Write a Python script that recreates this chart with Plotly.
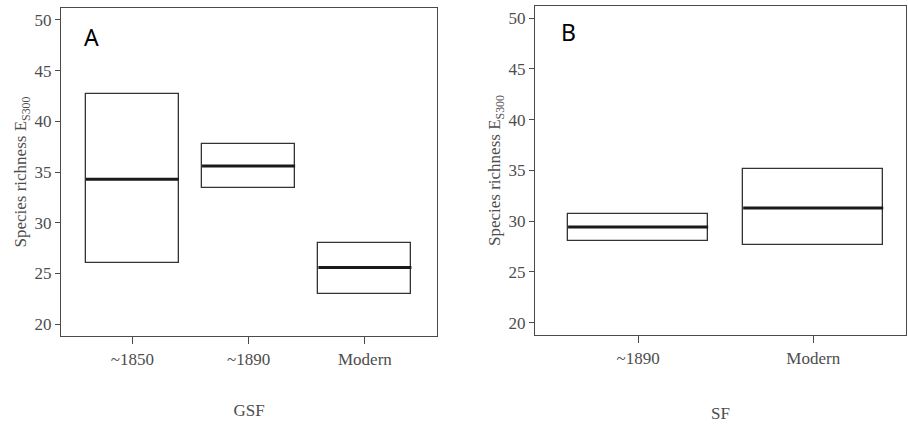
import plotly.graph_objects as go

# Panel A: GSF periods
gsf_labels = ["~1850", "~1890", "Modern"]
gsf_q1 = [25.98, 33.42, 22.98]
gsf_median = [34.28, 35.59, 25.59]
gsf_q3 = [42.67, 37.76, 27.96]

# Panel B: SF periods
sf_labels = ["~1890", "Modern"]
sf_q1 = [28.04, 27.61]
sf_median = [29.42, 31.29]
sf_q3 = [30.70, 35.14]

y_ticks = [20, 25, 30, 35, 40, 45, 50]

BOX_W = 0.8
FRAME = "#4a4a4a"
TEXT = "#4d4d4d"
SERIF = "Liberation Serif"

fig = go.Figure()


def add_panel(labels, q1, med, q3, xa, ya):
    xs = list(range(len(labels)))
    fig.add_trace(go.Bar(
        x=xs, y=[b - a for a, b in zip(q1, q3)], base=q1, width=BOX_W,
        marker=dict(color="rgba(255,255,255,0)", line=dict(color="#333333", width=1.3)),
        xaxis=xa, yaxis=ya, showlegend=False, hoverinfo="skip",
    ))
    mx, my = [], []
    for i, m in zip(xs, med):
        mx += [i - BOX_W / 2, i + BOX_W / 2, None]
        my += [m, m, None]
    fig.add_trace(go.Scatter(
        x=mx, y=my, mode="lines", line=dict(color="#1a1a1a", width=3),
        xaxis=xa, yaxis=ya, showlegend=False, hoverinfo="skip",
    ))


add_panel(gsf_labels, gsf_q1, gsf_median, gsf_q3, "x", "y")
add_panel(sf_labels, sf_q1, sf_median, sf_q3, "x2", "y2")

axis_common = dict(
    showline=True, mirror=True, linecolor=FRAME, linewidth=1.3,
    showgrid=False, zeroline=False, ticks="outside", tickcolor=FRAME,
    tickfont=dict(family=SERIF, size=17, color=TEXT),
)
title_font = dict(family=SERIF, size=17, color=TEXT)
ytitle = "Species richness E<sub>S300</sub>"

fig.update_layout(
    width=908, height=427, margin=dict(l=0, r=0, t=0, b=0),
    paper_bgcolor="white", plot_bgcolor="white", bargap=0,
    xaxis=dict(domain=[61 / 908, 437 / 908], range=[-0.613, 2.62],
               tickvals=[0, 1, 2], ticktext=gsf_labels, ticklen=7,
               title=dict(text="GSF", font=title_font, standoff=36),
               **axis_common),
    yaxis=dict(domain=[1 - 336 / 427, 1 - 8 / 427], range=[18.82, 51.18],
               tickvals=y_ticks, ticklen=5,
               title=dict(text=ytitle, font=title_font, standoff=3),
               **axis_common),
    xaxis2=dict(domain=[535 / 908, 906 / 908], range=[-0.589, 1.53],
                tickvals=[0, 1], ticktext=sf_labels, ticklen=7, anchor="y2",
                title=dict(text="SF", font=title_font, standoff=40),
                **axis_common),
    yaxis2=dict(domain=[1 - 335 / 427, 1 - 6 / 427], range=[18.79, 51.2],
                tickvals=y_ticks, ticklen=5, anchor="x2",
                title=dict(text=ytitle, font=title_font, standoff=3),
                **axis_common),
    annotations=[
        dict(text="A", x=-0.43, y=48.3, xref="x", yref="y", xanchor="left", yanchor="middle",
             showarrow=False, font=dict(family="Noto Sans", size=23, color="black")),
        dict(text="B", x=-0.45, y=48.6, xref="x2", yref="y2", xanchor="left", yanchor="middle",
             showarrow=False, font=dict(family="Noto Sans", size=23, color="black")),
    ],
)

fig.write_html("out.html")
